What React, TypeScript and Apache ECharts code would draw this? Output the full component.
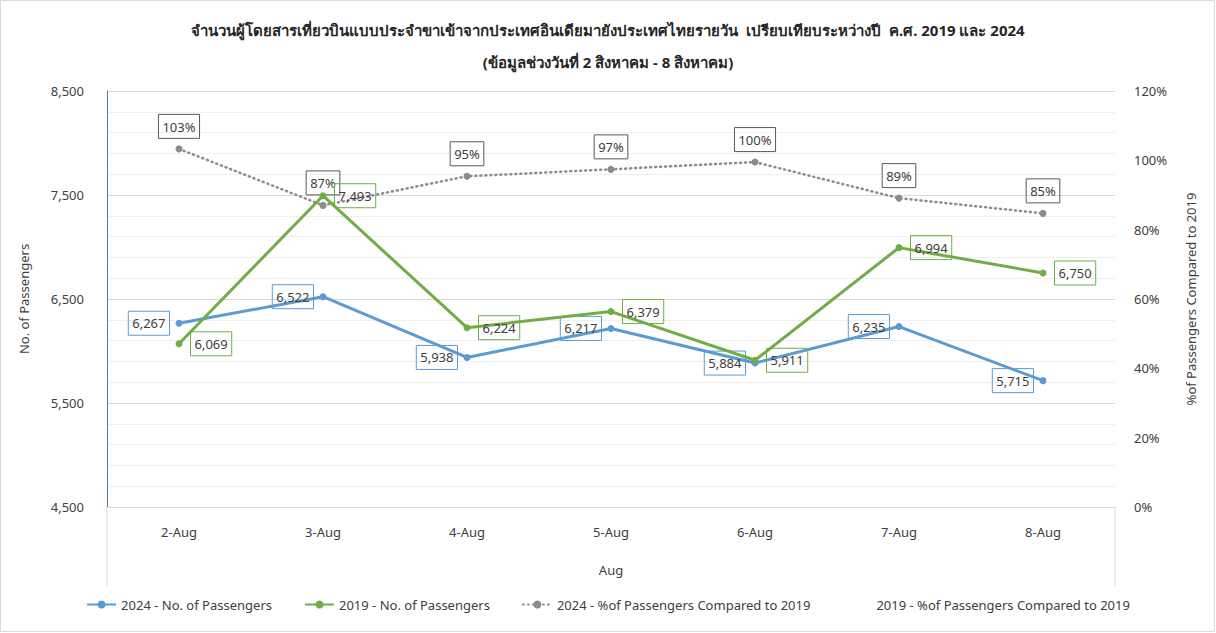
import React, { useEffect, useRef } from "react";
import * as echarts from "echarts";

const categories = ["2-Aug", "3-Aug", "4-Aug", "5-Aug", "6-Aug", "7-Aug", "8-Aug"];
const passengers2024 = [6267, 6522, 5938, 6217, 5884, 6235, 5715];
const passengers2019 = [6069, 7493, 6224, 6379, 5911, 6994, 6750];
const pct2024 = [103.3, 87.0, 95.4, 97.4, 99.5, 89.1, 84.7];
const pct2019: number[] = [];

const leftTicks = { min: 4500, max: 8500, step: 1000 };
const rightTicks = { min: 0, max: 120, step: 20 };

const titleText =
  "จำนวนผู้โดยสารเที่ยวบินแบบประจำขาเข้าจากประเทศอินเดียมายังประเทศไทยรายวัน  เปรียบเทียบระหว่างปี  ค.ศ. 2019 และ 2024\n(ข้อมูลช่วงวันที่ 2 สิงหาคม - 8 สิงหาคม)";

const S2024 = "2024 - No. of Passengers";
const S2019 = "2019 - No. of Passengers";
const SP24 = "2024 - %of Passengers Compared to 2019";
const SP19 = "2019 - %of Passengers Compared to 2019";

const FONT = 'Tahoma, "Noto Sans", "DejaVu Sans", sans-serif';
const TXT = "#404040";

const fmt = (v: number) => v.toLocaleString("en-US");

export default function App() {
  const ref = useRef<HTMLDivElement>(null);
  useEffect(() => {
    if (!ref.current) return;
    const chart = echarts.init(ref.current, null, { renderer: "svg" });
    const labelBase = {
      show: true,
      fontFamily: FONT,
      fontSize: 13,
      color: TXT,
      borderWidth: 1,
      padding: [6, 4, 5, 4],
    };
    chart.setOption({
      animation: false,
      backgroundColor: "#ffffff",
      textStyle: { fontFamily: FONT },
      title: {
        text: titleText,
        left: "center",
        top: 9,
        textStyle: {
          fontFamily: FONT,
          fontSize: 15,
          fontWeight: "bold",
          color: "#262626",
          lineHeight: 32,
        },
      },
      grid: { left: 107, right: 101, top: 91, bottom: 126, containLabel: false },
      legend: {
        bottom: 17,
        left: "center",
        itemWidth: 29,
        itemHeight: 10,
        itemGap: 32,
        textStyle: { fontFamily: FONT, fontSize: 13, color: TXT },
        data: [
          { name: S2024 },
          { name: S2019 },
          { name: SP24 },
          { name: SP19, icon: "none" },
        ],
      },
      xAxis: {
        type: "category",
        data: categories,
        boundaryGap: true,
        name: "Aug",
        nameLocation: "middle",
        nameGap: 56,
        nameTextStyle: { fontFamily: FONT, fontSize: 13, color: TXT },
        axisLine: { show: true, lineStyle: { color: "#d9d9d9", width: 1 } },
        axisTick: { show: false },
        axisLabel: { fontFamily: FONT, fontSize: 13, color: TXT, margin: 18 },
        splitLine: { show: false },
      },
      yAxis: [
        {
          type: "value",
          min: leftTicks.min,
          max: leftTicks.max,
          interval: 100,
          name: "No. of Passengers",
          nameLocation: "middle",
          nameGap: 77,
          nameRotate: 90,
          nameTextStyle: { fontFamily: FONT, fontSize: 13, color: TXT },
          axisLine: { show: true, lineStyle: { color: "#4f7aa8", width: 1 } },
          axisTick: { show: false },
          axisLabel: {
            fontFamily: FONT,
            fontSize: 13,
            color: TXT,
            margin: 23,
            formatter: (v: number) =>
              (Math.round(v) - leftTicks.min) % leftTicks.step === 0 ? fmt(Math.round(v)) : "",
          },
          splitLine: {
            show: true,
            lineStyle: {
              width: 1,
              color: [
                "#d9d9d9",
                "rgba(0,0,0,0)",
                "#efefef",
                "rgba(0,0,0,0)",
                "#efefef",
                "rgba(0,0,0,0)",
                "#efefef",
                "rgba(0,0,0,0)",
                "#efefef",
                "rgba(0,0,0,0)",
              ],
            },
          },
        },
        {
          type: "value",
          min: rightTicks.min,
          max: rightTicks.max,
          interval: rightTicks.step,
          position: "right",
          name: "%of Passengers Compared to 2019",
          nameLocation: "middle",
          nameGap: 69,
          nameRotate: 90,
          nameTextStyle: { fontFamily: FONT, fontSize: 13, color: TXT },
          axisLine: { show: false },
          axisTick: { show: false },
          axisLabel: {
            fontFamily: FONT,
            fontSize: 13,
            color: TXT,
            margin: 19,
            formatter: (v: number) => `${Math.round(v)}%`,
          },
          splitLine: { show: false },
        },
      ],
      series: [
        {
          name: S2024,
          type: "line",
          data: passengers2024,
          yAxisIndex: 0,
          symbol: "circle",
          symbolSize: 7,
          lineStyle: { color: "#5b9bd5", width: 3 },
          itemStyle: { color: "#5b9bd5" },
          label: {
            ...labelBase,
            position: "left",
            distance: 6,
            borderColor: "#5b9bd5",
            formatter: (p: any) => fmt(p.value),
          },
          z: 3,
        },
        {
          name: S2019,
          type: "line",
          data: passengers2019,
          yAxisIndex: 0,
          symbol: "circle",
          symbolSize: 7,
          lineStyle: { color: "#70ad47", width: 3 },
          itemStyle: { color: "#70ad47" },
          label: {
            ...labelBase,
            position: "right",
            distance: 8,
            borderColor: "#70ad47",
            formatter: (p: any) => fmt(p.value),
          },
          z: 4,
        },
        {
          name: SP24,
          type: "line",
          data: pct2024,
          yAxisIndex: 1,
          symbol: "circle",
          symbolSize: 7,
          lineStyle: { color: "#8c8c8c", width: 2.5, type: [1, 4], cap: "round" },
          itemStyle: { color: "#8c8c8c" },
          label: {
            ...labelBase,
            position: "top",
            distance: 7,
            borderColor: "#595959",
            formatter: (p: any) => `${Math.round(p.value)}%`,
          },
          z: 2,
        },
        {
          name: SP19,
          type: "line",
          data: pct2019,
          yAxisIndex: 1,
          symbol: "none",
          lineStyle: { color: "#a5a5a5", width: 2, opacity: 0 },
          itemStyle: { color: "#a5a5a5", opacity: 0 },
        },
      ],
      graphic: [
        {
          type: "rect",
          shape: { x: 0.5, y: 0.5, width: 1214, height: 631 },
          style: { fill: "none", stroke: "#d9d9d9", lineWidth: 1 },
          silent: true,
        },
        {
          type: "line",
          shape: { x1: 107, y1: 507, x2: 107, y2: 586 },
          style: { stroke: "#d9d9d9", lineWidth: 1 },
          silent: true,
        },
        {
          type: "line",
          shape: { x1: 1115, y1: 507, x2: 1115, y2: 586 },
          style: { stroke: "#d9d9d9", lineWidth: 1 },
          silent: true,
        },
      ],
    });
    return () => chart.dispose();
  }, []);
  return (
    <div
      ref={ref}
      style={{ position: "fixed", left: 0, top: 0, width: 1216, height: 633 }}
    />
  );
}
